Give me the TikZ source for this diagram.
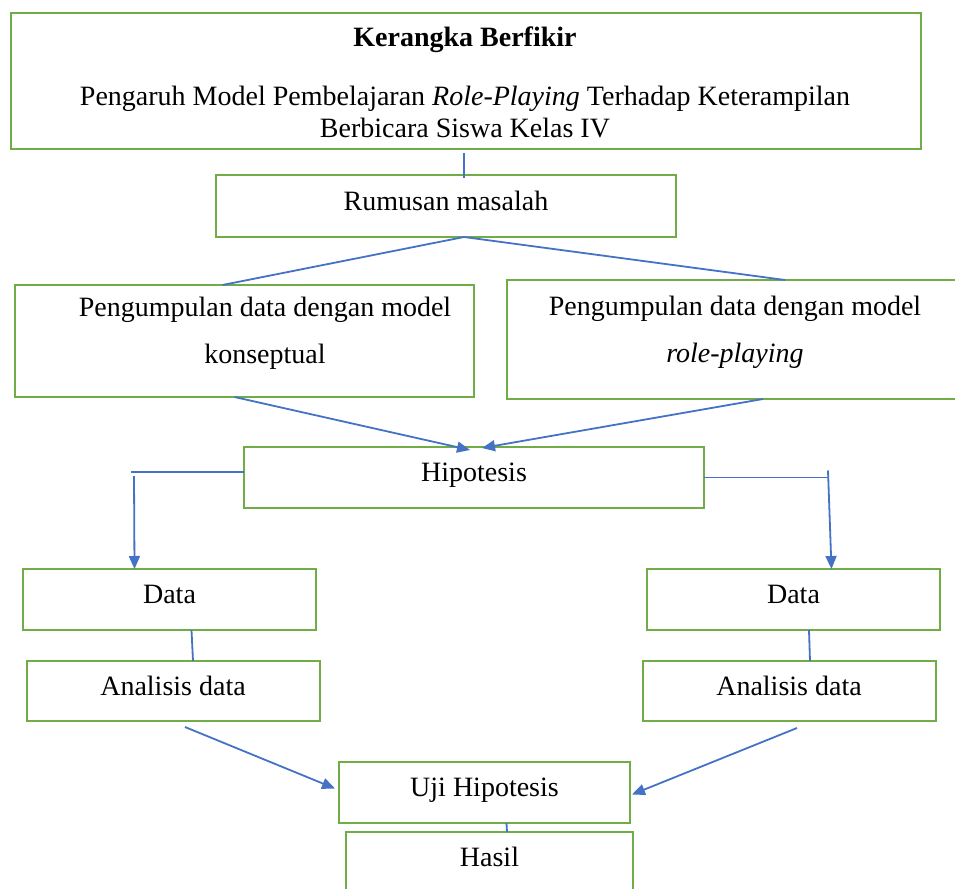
\documentclass[tikz,border=0pt]{standalone}
\usepackage{fontspec}
\setmainfont{Liberation Serif}
\usetikzlibrary{calc,arrows.meta}
\definecolor{hijau}{RGB}{112,173,71}
\definecolor{biru}{RGB}{68,114,196}
\tikzset{
	every node/.style={font=\fontsize{14}{16}\selectfont},
	box/.style={draw=hijau,line width=1pt,outer sep=0pt,text height=9pt,text depth=5pt},
	kecil/.style={box,minimum width=146.5pt,minimum height=30.5pt},
	teks/.style={align=center,font=\fontsize{14}{23.5}\selectfont},
	garisan/.style={draw=biru,line width=0.9pt},
	panah/.style={garisan,-{Triangle[length=6.5pt,width=5.5pt]}},
}

\begin{document}
\begin{tikzpicture}[x=0.5pt,y=-0.5pt]
\clip (0,0) rectangle (955,889);
\node[box,minimum width=455pt,minimum height=68pt] (kerangka) at (466,81) {};
\node[font=\fontsize{14}{16}\selectfont\bfseries] (judul) at (465,40) {Kerangka Berfikir};
\node[align=center] (topik) at (465,112) {Pengaruh Model Pembelajaran \textit{Role-Playing} Terhadap Keterampilan\\Berbicara Siswa Kelas IV};
\node[box,minimum width=230pt,minimum height=31pt] (rumusan) at (446,206) {Rumusan masalah};
\node[box,minimum width=229.5pt,minimum height=56pt] (pkonsep) at (244.5,341) {};
\node[teks] (tkonsep) at (265,333) {Pengumpulan data dengan model\\konseptual};
\node[box,minimum width=228pt,minimum height=59.5pt] (prole) at (735,339.5) {};
\node[teks] (trole) at (735,332) {Pengumpulan data dengan model\\\textit{role-playing}};
\node[box,minimum width=230pt,minimum height=30.5pt] (hipotesis) at (474,477.5) {Hipotesis};
\node[kecil] (dataA) at (169.5,599.5) {Data};
\node[kecil] (dataB) at (793.5,599.5) {Data};
\node[kecil,minimum height=30pt] (analisisA) at (173,691) {Analisis data};
\node[kecil,minimum height=30pt] (analisisB) at (789,691) {Analisis data};
\node[box,minimum width=145.5pt,minimum height=30.5pt] (uji) at (484.5,792.5) {Uji Hipotesis};
\node[box,minimum width=143.5pt,minimum height=30pt] (hasil) at (489.5,862) {Hasil};

\draw[garisan] ($(kerangka.south)+(-2,4)$) -- ($(rumusan.north)+(18,3)$);
\draw[garisan] ($(rumusan.south)+(18,0)$) -- ($(pkonsep.north)+(-22,0)$);
\draw[garisan] ($(rumusan.south)+(18,0)$) -- ($(prole.north)+(50,0)$);
\draw[panah] ($(pkonsep.south)+(-10,0)$) -- ($(hipotesis.north)+(-4,3)$);
\draw[panah] ($(prole.south)+(28,0)$) -- ($(hipotesis.north)+(8,1)$);
\draw[garisan] ($(hipotesis.west)+(0,-5.5)$) -- ++(-113,0) coordinate (kiri);
\draw[panah] ($(kiri)+(3,4)$) -- ($(dataA.north)+(-35,0)$);
\draw[garisan] (hipotesis.east) -- ++(124,0) coordinate (kanan);
\draw[panah] ($(kanan)+(0,-7)$) -- ($(dataB.north)+(38,0)$);
\draw[garisan] ($(dataA.south)+(22,0)$) -- ($(analisisA.north)+(20,0)$);
\draw[garisan] ($(dataB.south)+(15.5,0)$) -- ($(analisisB.north)+(21,0)$);
\draw[panah] ($(analisisA.south)+(12,6)$) -- ($(uji.west)+(-4,-4)$);
\draw[panah] ($(analisisB.south)+(8,7)$) -- ($(uji.east)+(2,2)$);
\draw[garisan] ($(uji.south)+(22,0)$) -- ($(hasil.north)+(17.5,0)$);
\end{tikzpicture}
\end{document}
